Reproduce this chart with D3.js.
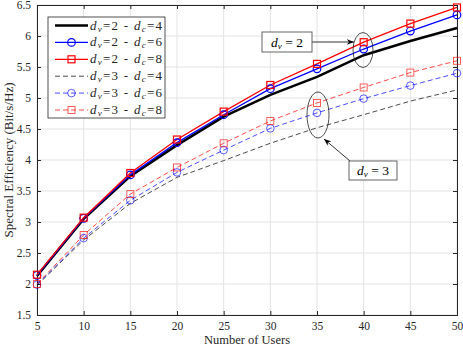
<!DOCTYPE html>
<html><head><meta charset="utf-8">
<script src="https://cdn.jsdelivr.net/npm/d3@7"></script>
<style>body{margin:0;background:#fff;} svg{display:block;} text{font-family:"Liberation Serif","DejaVu Serif",serif;}</style>
</head><body><svg id="c" width="463" height="348"></svg>
<script>
const users = [5,10,15,20,25,30,35,40,45,50];
const dv2dc4 = [2.13,3.05,3.74,4.24,4.70,5.05,5.34,5.69,5.92,6.13];
const dv2dc6 = [2.14,3.06,3.76,4.28,4.73,5.15,5.47,5.79,6.08,6.34];
const dv2dc8 = [2.15,3.07,3.79,4.33,4.78,5.21,5.55,5.90,6.20,6.46];
const dv3dc4 = [1.98,2.71,3.30,3.72,3.99,4.27,4.52,4.73,4.95,5.13];
const dv3dc6 = [1.99,2.74,3.35,3.80,4.16,4.51,4.76,4.99,5.20,5.40];
const dv3dc8 = [2.00,2.79,3.45,3.88,4.27,4.63,4.92,5.17,5.41,5.60];
const xTicks = [5,10,15,20,25,30,35,40,45,50];
const yTicks = [1.5,2,2.5,3,3.5,4,4.5,5,5.5,6,6.5];

const series = [
 {dv:2,dc:4,vals:dv2dc4,color:"#000",w:2.5,dash:null,marker:null,op:1},
 {dv:2,dc:6,vals:dv2dc6,color:"#0000ff",w:1.3,dash:null,marker:"circle",op:1},
 {dv:2,dc:8,vals:dv2dc8,color:"#ff0000",w:1.3,dash:null,marker:"square",op:1},
 {dv:3,dc:4,vals:dv3dc4,color:"#000",w:1,dash:"5,3",marker:null,op:0.7},
 {dv:3,dc:6,vals:dv3dc6,color:"#0000ff",w:1,dash:"5,3",marker:"circle",op:0.7},
 {dv:3,dc:8,vals:dv3dc8,color:"#ff0000",w:1,dash:"5,3",marker:"square",op:0.7}
];

const svg = d3.select("#c");
const L=37,R=457,T=5,B=315;
const x = d3.scaleLinear().domain([5,50]).range([L,R]);
const y = d3.scaleLinear().domain([1.5,6.5]).range([B,T]);

// grid
svg.append("g").selectAll("line").data(xTicks).join("line")
 .attr("x1",d=>x(d)).attr("x2",d=>x(d)).attr("y1",T).attr("y2",B)
 .attr("stroke","#e3e3e3").attr("stroke-width",1);
svg.append("g").selectAll("line").data(yTicks).join("line")
 .attr("y1",d=>y(d)).attr("y2",d=>y(d)).attr("x1",L).attr("x2",R)
 .attr("stroke","#e3e3e3").attr("stroke-width",1);

// axes
svg.append("g").attr("transform",`translate(0,${B})`)
 .call(d3.axisBottom(x).tickValues(xTicks).tickSize(-4).tickPadding(7).tickFormat(d3.format("d")));
svg.append("g").attr("transform",`translate(${L},0)`)
 .call(d3.axisLeft(y).tickValues(yTicks).tickSize(-4).tickPadding(6).tickFormat(d=>String(d)));
svg.append("g").attr("transform",`translate(0,${T})`)
 .call(d3.axisTop(x).tickValues(xTicks).tickSize(-4).tickFormat(""));
svg.append("g").attr("transform",`translate(${R},0)`)
 .call(d3.axisRight(y).tickValues(yTicks).tickSize(-4).tickFormat(""));
svg.selectAll(".domain").attr("stroke","#262626");
svg.selectAll(".tick line").attr("stroke","#262626");
svg.selectAll(".tick text").attr("font-family","Liberation Serif, serif").attr("font-size",11.5).attr("fill","#262626");

// lines
const line = d3.line().x((d,i)=>x(users[i])).y(d=>y(d));
const g = svg.append("g");
series.forEach(s=>{
  g.append("path").datum(s.vals).attr("d",line).attr("fill","none")
   .attr("stroke",s.color).attr("stroke-width",s.w).attr("stroke-opacity",s.op)
   .attr("stroke-dasharray",s.dash);
});
function drawMarker(sel,s,cx,cy){
  if(s.marker==="circle"){
    sel.append("circle").attr("cx",cx).attr("cy",cy).attr("r",3.8)
     .attr("fill","none").attr("stroke",s.color).attr("stroke-width",s.dash?0.9:1.2).attr("stroke-opacity",s.op);
  } else if(s.marker==="square"){
    sel.append("rect").attr("x",cx-3.5).attr("y",cy-3.5).attr("width",7).attr("height",7)
     .attr("fill","none").attr("stroke",s.color).attr("stroke-width",s.dash?0.9:1.2).attr("stroke-opacity",s.op);
  }
}
series.forEach(s=>{
  s.vals.forEach((v,i)=>drawMarker(g,s,x(users[i]),y(v)));
});

// legend
const lg = svg.append("g");
lg.append("rect").attr("x",48).attr("y",17).attr("width",117).attr("height",101)
 .attr("fill","#fff").attr("stroke","#262626").attr("stroke-width",0.8);
series.forEach((s,i)=>{
  const ly = 25.5 + i*16.9;
  lg.append("line").attr("x1",55).attr("x2",88).attr("y1",ly).attr("y2",ly)
   .attr("stroke",s.color).attr("stroke-width",s.w).attr("stroke-opacity",s.op).attr("stroke-dasharray",s.dash);
  drawMarker(lg,s,71.5,ly);
  const t = lg.append("text").attr("x",90).attr("y",ly+4).attr("font-size",13).attr("fill","#262626")
   .attr("textLength",72).attr("lengthAdjust","spacing");
  t.append("tspan").attr("font-style","italic").text("d");
  t.append("tspan").attr("font-style","italic").attr("font-size",9).attr("dy",2).text("v");
  t.append("tspan").attr("dy",-2).text("=" + s.dv + " - ");
  t.append("tspan").attr("font-style","italic").text("d");
  t.append("tspan").attr("font-style","italic").attr("font-size",9).attr("dy",2).text("c");
  t.append("tspan").attr("dy",-2).text("=" + s.dc);
});

// annotations
svg.append("defs").append("marker").attr("id","ah").attr("viewBox","0 0 10 10")
 .attr("refX",10).attr("refY",5).attr("markerWidth",9).attr("markerHeight",9).attr("orient","auto")
 .append("path").attr("d","M0,1 L10,5 L0,9 L3,5 Z").attr("fill","#000");
function note(bx,by,bw,bh,label,ax1,ay1,ax2,ay2){
  svg.append("line").attr("x1",ax1).attr("y1",ay1).attr("x2",ax2).attr("y2",ay2)
   .attr("stroke","#000").attr("stroke-width",0.8).attr("marker-end","url(#ah)");
  svg.append("rect").attr("x",bx).attr("y",by).attr("width",bw).attr("height",bh)
   .attr("fill","#fff").attr("stroke","#555").attr("stroke-width",0.9);
  const t = svg.append("text").attr("x",bx+bw/2).attr("y",by+bh/2+4.5).attr("text-anchor","middle").attr("font-size",13.5);
  t.append("tspan").attr("font-style","italic").text("d");
  t.append("tspan").attr("font-style","italic").attr("font-size",9).attr("dy",2).text("v");
  t.append("tspan").attr("dy",-2).text(" = " + label);
}
svg.append("ellipse").attr("cx",363).attr("cy",50).attr("rx",10).attr("ry",17.5)
 .attr("fill","none").attr("stroke","#222").attr("stroke-width",0.8);
svg.append("ellipse").attr("cx",318).attr("cy",115).attr("rx",11).attr("ry",23)
 .attr("fill","none").attr("stroke","#222").attr("stroke-width",0.8);
note(262,32,50,20,"2",312,42,354,42);
note(349,161,48,19,"3",350,161,324,139);

// axis labels
svg.append("text").attr("x",(L+R)/2).attr("y",344).attr("text-anchor","middle").attr("font-size",12.5).attr("fill","#262626").text("Number of Users");
svg.append("text").attr("transform",`translate(13,${(T+B)/2}) rotate(-90)`).attr("text-anchor","middle").attr("font-size",13).attr("fill","#262626").text("Spectral Efficiency (Bit/s/Hz)");
</script></body></html>
